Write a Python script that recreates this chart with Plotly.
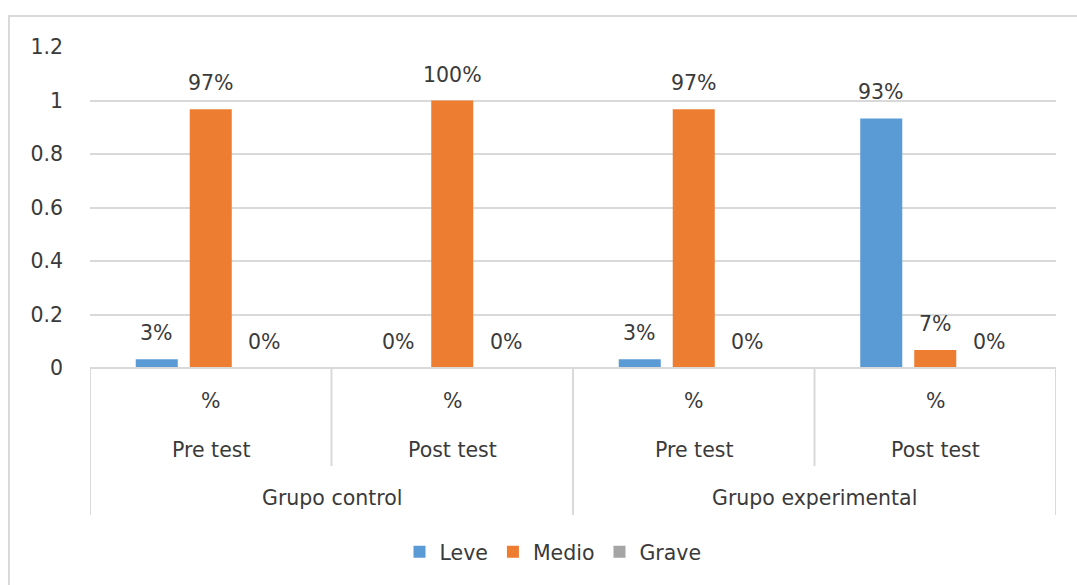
import plotly.graph_objects as go

# --- data ---------------------------------------------------------------
groups = ["Grupo control", "Grupo experimental"]
phases = ["Pre test", "Post test", "Pre test", "Post test"]
measure = "%"
series_names = ["Leve", "Medio", "Grave"]
leve = [0.033, 0.0, 0.033, 0.933]
medio = [0.967, 1.0, 0.967, 0.067]
grave = [0.0, 0.0, 0.0, 0.0]
y_ticks = [0, 0.2, 0.4, 0.6, 0.8, 1, 1.2]
y_tick_text = ["0", "0.2", "0.4", "0.6", "0.8", "1", "1.2"]

# --- styling ------------------------------------------------------------
colors = ["#5B9BD5", "#ED7D31", "#A5A5A5"]
font_family = "DejaVu Sans, sans-serif"
font_size = 20.5
text_color = "#3A3A3A"
grid_color = "#D9D9D9"
W, H = 1077, 585
ML, MR, MT, MB = 90, 21, 47, 217
plot_w = W - ML - MR
plot_h = H - MT - MB

bar_w = 0.174          # bar width in category units
slot = 0.2236          # distance between neighbouring bars of a group
offsets = [-slot, 0.0, slot]
label_font = dict(family=font_family, size=font_size, color=text_color)

fig = go.Figure()
x_idx = list(range(len(phases)))
for name, vals, col, off in zip(series_names, [leve, medio, grave], colors, offsets):
    fig.add_trace(go.Bar(
        x=[i + off for i in x_idx], y=vals, width=bar_w, name=name,
        marker=dict(color=col, line=dict(width=0)),
        hoverinfo="skip",
    ))
    # value labels above each bar
    for i, v in zip(x_idx, vals):
        fig.add_annotation(
            x=i + off, y=v, xref="x", yref="y", text=f"{round(v * 100)}%",
            showarrow=False, yshift=26, yanchor="middle", font=label_font,
        )


def px_to_paper_x(px):
    return (px - ML) / plot_w


def px_to_paper_y(py):
    return (H - MB - py) / plot_h


line_style = dict(color=grid_color, width=2)

# x-axis base line
fig.add_shape(type="line", xref="x", yref="paper", x0=-0.5, x1=len(phases) - 0.5,
              y0=0, y1=0, line=line_style)

# separators of the two-level category axis
for b in range(len(phases) + 1):
    xb = b - 0.5
    is_group_edge = b in (0, 2, 4)
    y_end = px_to_paper_y(515 if is_group_edge else 466)
    fig.add_shape(type="line", xref="x", yref="paper", x0=xb, x1=xb,
                  y0=0, y1=y_end, line=line_style)

# category labels: measure and phase rows
for i, ph in enumerate(phases):
    fig.add_annotation(x=i, y=px_to_paper_y(401), xref="x", yref="paper", text=measure,
                       showarrow=False, yanchor="middle", font=label_font)
    fig.add_annotation(x=i, y=px_to_paper_y(450), xref="x", yref="paper", text=ph,
                       showarrow=False, yanchor="middle", font=label_font)
# group row
for g, name in enumerate(groups):
    fig.add_annotation(x=2 * g + 0.5, y=px_to_paper_y(498), xref="x", yref="paper", text=name,
                       showarrow=False, yanchor="middle", font=label_font)

# chart frame
fig.add_shape(type="rect", xref="paper", yref="paper",
              x0=px_to_paper_x(9), x1=px_to_paper_x(1090),
              y0=px_to_paper_y(600), y1=px_to_paper_y(16),
              line=dict(color=grid_color, width=2), fillcolor="rgba(0,0,0,0)", layer="below")

fig.update_layout(
    width=W, height=H,
    margin=dict(l=ML, r=MR, t=MT, b=MB, autoexpand=False),
    paper_bgcolor="white", plot_bgcolor="white",
    barmode="overlay",
    showlegend=True,
    legend=dict(orientation="h", x=px_to_paper_x(553), xanchor="center",
                y=px_to_paper_y(552), yanchor="middle",
                font=label_font, bgcolor="rgba(0,0,0,0)"),
    font=label_font,
)
fig.update_xaxes(range=[-0.5, len(phases) - 0.5], showticklabels=False, showgrid=False,
                 zeroline=False, showline=False, fixedrange=True)
fig.update_yaxes(range=[0, 1.2], tickvals=y_ticks, ticktext=y_tick_text,
                 showgrid=True, gridcolor=grid_color, gridwidth=2, zeroline=False,
                 showline=False, ticks="", ticklabelstandoff=26,
                 tickfont=label_font, fixedrange=True)

fig.write_html("out.html")
